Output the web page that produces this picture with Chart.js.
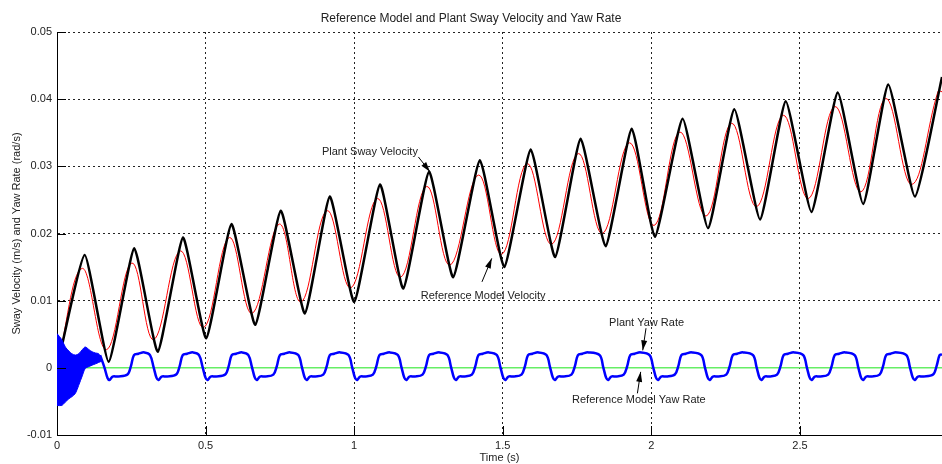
<!DOCTYPE html>
<html>
<head>
<meta charset="utf-8">
<title>Reference Model and Plant Sway Velocity and Yaw Rate</title>
<script src="https://cdn.jsdelivr.net/npm/chart.js@4.4.1/dist/chart.umd.min.js"></script>
<style>
  html, body { margin: 0; padding: 0; background: #fff; }
  canvas { display: block; }
</style>
</head>
<body>
<canvas id="swayChart" width="942" height="464"></canvas>
<script>
// Plant sway velocity (m/s): turning points of the black trace
const swayT = [0, 0.093, 0.174, 0.260, 0.339, 0.424, 0.502, 0.587, 0.667, 0.753, 0.834, 0.918,
  1.000, 1.087, 1.165, 1.252, 1.333, 1.423, 1.505, 1.594, 1.676, 1.762, 1.846, 1.934,
  2.012, 2.105, 2.191, 2.279, 2.366, 2.452, 2.539, 2.627, 2.713, 2.797, 2.887, 2.978];
const swayV = [0.0000, 0.0168, 0.0009, 0.0178, 0.0024, 0.0194, 0.0044, 0.0214, 0.0064, 0.0234, 0.0081, 0.0255,
  0.0098, 0.0273, 0.0118, 0.0292, 0.0135, 0.0309, 0.0150, 0.0325, 0.0165, 0.0341, 0.0181, 0.0356,
  0.0195, 0.0371, 0.0208, 0.0385, 0.0221, 0.0397, 0.0232, 0.0410, 0.0244, 0.0422, 0.0255, 0.0433];

// Reference model velocity (m/s): red trace
const refT = [0, 0.084, 0.166, 0.252, 0.325, 0.415, 0.493, 0.580, 0.656, 0.748, 0.821, 0.909,
  0.988, 1.078, 1.156, 1.244, 1.322, 1.418, 1.496, 1.582, 1.664, 1.754, 1.835, 1.926,
  2.009, 2.096, 2.184, 2.270, 2.354, 2.444, 2.528, 2.618, 2.705, 2.789, 2.876, 2.965, 2.978];
const refV = [0.0000, 0.0148, 0.0027, 0.0156, 0.0042, 0.0174, 0.0060, 0.0194, 0.0081, 0.0214, 0.0098, 0.0234,
  0.0119, 0.0252, 0.0135, 0.0270, 0.0153, 0.0287, 0.0169, 0.0304, 0.0184, 0.0319, 0.0200, 0.0335,
  0.0212, 0.0351, 0.0226, 0.0364, 0.0240, 0.0376, 0.0252, 0.0389, 0.0262, 0.0401, 0.0273, 0.0412, 0.0411];

// Plant yaw rate (rad/s) after the start-up transient: blue trace
const yawT = [0.145, 0.160,
  0.170, 0.177, 0.187, 0.205, 0.237, 0.249, 0.259, 0.274, 0.294, 0.313, 0.325,
  0.335, 0.342, 0.352, 0.370, 0.401, 0.413, 0.423, 0.438, 0.458, 0.478, 0.490,
  0.500, 0.507, 0.517, 0.535, 0.566, 0.578, 0.588, 0.603, 0.623, 0.644, 0.656,
  0.666, 0.673, 0.683, 0.701, 0.728, 0.740, 0.750, 0.765, 0.785, 0.812, 0.824,
  0.834, 0.841, 0.851, 0.869, 0.896, 0.908, 0.918, 0.933, 0.953, 0.981, 0.993,
  1.003, 1.010, 1.020, 1.038, 1.063, 1.075, 1.085, 1.100, 1.120, 1.147, 1.159,
  1.169, 1.176, 1.186, 1.204, 1.230, 1.242, 1.252, 1.267, 1.287, 1.314, 1.326,
  1.336, 1.343, 1.353, 1.371, 1.396, 1.408, 1.418, 1.433, 1.453, 1.480, 1.492,
  1.502, 1.509, 1.519, 1.537, 1.563, 1.575, 1.585, 1.600, 1.620, 1.647, 1.659,
  1.669, 1.676, 1.686, 1.704, 1.731, 1.743, 1.753, 1.768, 1.788, 1.826, 1.838,
  1.848, 1.855, 1.865, 1.883, 1.907, 1.919, 1.929, 1.944, 1.964, 1.994, 2.006,
  2.016, 2.023, 2.033, 2.051, 2.079, 2.091, 2.101, 2.116, 2.136, 2.168, 2.180,
  2.190, 2.197, 2.207, 2.225, 2.252, 2.264, 2.274, 2.289, 2.309, 2.342, 2.354,
  2.364, 2.371, 2.381, 2.399, 2.423, 2.435, 2.445, 2.460, 2.480, 2.511, 2.523,
  2.533, 2.540, 2.550, 2.568, 2.595, 2.607, 2.617, 2.632, 2.652, 2.684, 2.696,
  2.706, 2.713, 2.723, 2.741, 2.768, 2.780, 2.790, 2.805, 2.825, 2.858, 2.870,
  2.880, 2.887, 2.897, 2.915, 2.948, 2.960, 2.970, 2.978];
const yawR = [0.0019, 0.0000,
  -0.0015, -0.0018, -0.0013, -0.0013, -0.0010, 0.0003, 0.0019, 0.0021, 0.0023, 0.0019, 0.0001,
  -0.0015, -0.0018, -0.0013, -0.0013, -0.0010, 0.0003, 0.0019, 0.0021, 0.0023, 0.0019, 0.0001,
  -0.0015, -0.0018, -0.0013, -0.0013, -0.0010, 0.0003, 0.0019, 0.0021, 0.0023, 0.0019, 0.0001,
  -0.0015, -0.0018, -0.0013, -0.0013, -0.0010, 0.0003, 0.0019, 0.0021, 0.0023, 0.0019, 0.0001,
  -0.0015, -0.0018, -0.0013, -0.0013, -0.0010, 0.0003, 0.0019, 0.0021, 0.0023, 0.0019, 0.0001,
  -0.0015, -0.0018, -0.0013, -0.0013, -0.0010, 0.0003, 0.0019, 0.0021, 0.0023, 0.0019, 0.0001,
  -0.0015, -0.0018, -0.0013, -0.0013, -0.0010, 0.0003, 0.0019, 0.0021, 0.0023, 0.0019, 0.0001,
  -0.0015, -0.0018, -0.0013, -0.0013, -0.0010, 0.0003, 0.0019, 0.0021, 0.0023, 0.0019, 0.0001,
  -0.0015, -0.0018, -0.0013, -0.0013, -0.0010, 0.0003, 0.0019, 0.0021, 0.0023, 0.0019, 0.0001,
  -0.0015, -0.0018, -0.0013, -0.0013, -0.0010, 0.0003, 0.0019, 0.0021, 0.0023, 0.0019, 0.0001,
  -0.0015, -0.0018, -0.0013, -0.0013, -0.0010, 0.0003, 0.0019, 0.0021, 0.0023, 0.0019, 0.0001,
  -0.0015, -0.0018, -0.0013, -0.0013, -0.0010, 0.0003, 0.0019, 0.0021, 0.0023, 0.0019, 0.0001,
  -0.0015, -0.0018, -0.0013, -0.0013, -0.0010, 0.0003, 0.0019, 0.0021, 0.0023, 0.0019, 0.0001,
  -0.0015, -0.0018, -0.0013, -0.0013, -0.0010, 0.0003, 0.0019, 0.0021, 0.0023, 0.0019, 0.0001,
  -0.0015, -0.0018, -0.0013, -0.0013, -0.0010, 0.0003, 0.0019, 0.0021, 0.0023, 0.0019, 0.0001,
  -0.0015, -0.0018, -0.0013, -0.0013, -0.0010, 0.0003, 0.0019, 0.0021, 0.0023, 0.0019, 0.0001,
  -0.0015, -0.0018, -0.0013, -0.0013, -0.0010, 0.0003, 0.0019, 0.0020];

// Start-up chatter of the yaw rate: upper and lower envelope of the solid band
const burstT  = [0, 0.016, 0.028, 0.040, 0.050, 0.062, 0.073, 0.085, 0.095, 0.108, 0.118, 0.130, 0.140, 0.151];
const burstHi = [0.0051, 0.0042, 0.0031, 0.0025, 0.0021, 0.0019, 0.0021, 0.0027, 0.0031, 0.0027, 0.0024, 0.0022, 0.0021, 0.0012];
const burstLo = [-0.0056, -0.0056, -0.0051, -0.0046, -0.0043, -0.0038, -0.0026, -0.0012, -0.0001, 0.0002, 0.0004, 0.0006, 0.0008, 0.0010];

// Reference model yaw rate stays at zero
const refYawT = [0, 2.978];
const refYawR = [0, 0];

// Axis ticks
const xTicks = [0, 0.5, 1, 1.5, 2, 2.5];
const xTickLabels = ['0', '0.5', '1', '1.5', '2', '2.5'];
const yTicks = [-0.01, 0, 0.01, 0.02, 0.03, 0.04, 0.05];
const yTickLabels = ['-0.01', '0', '0.01', '0.02', '0.03', '0.04', '0.05'];

const FONT = "'Liberation Sans', Arial, sans-serif";
const INK = '#222';

function pts(xs, ys) {
    return xs.map((x, i) => ({ x: x, y: ys[i] }));
}

// text labels with arrows, in data coordinates
const notes = [
    { text: 'Plant Sway Velocity', at: [1.053, 0.0321], from: [1.216, 0.0314], to: [1.255, 0.0292] },
    { text: 'Reference Model Velocity', at: [1.434, 0.0107], from: [1.430, 0.0128], to: [1.463, 0.0163] },
    { text: 'Plant Yaw Rate', at: [1.984, 0.0067], from: [1.982, 0.0059], to: [1.971, 0.0026] },
    { text: 'Reference Model Yaw Rate', at: [1.958, -0.0048], from: [1.953, -0.0038], to: [1.964, -0.0006] }
];

const notesPlugin = {
    id: 'notes',
    afterDraw(chart) {
        const ctx = chart.ctx;
        const xs = chart.scales.x, ys = chart.scales.y;
        ctx.save();
        ctx.font = '11px ' + FONT;
        ctx.fillStyle = INK;
        ctx.strokeStyle = '#000';
        ctx.textAlign = 'center';
        ctx.textBaseline = 'middle';
        notes.forEach(n => {
            ctx.fillText(n.text, xs.getPixelForValue(n.at[0]), ys.getPixelForValue(n.at[1]));
            const x1 = xs.getPixelForValue(n.from[0]), y1 = ys.getPixelForValue(n.from[1]);
            const x2 = xs.getPixelForValue(n.to[0]), y2 = ys.getPixelForValue(n.to[1]);
            const a = Math.atan2(y2 - y1, x2 - x1);
            ctx.lineWidth = 1;
            ctx.beginPath();
            ctx.moveTo(x1, y1);
            ctx.lineTo(x2, y2);
            ctx.stroke();
            // filled head
            const len = 10, half = 3;
            ctx.fillStyle = '#000';
            ctx.beginPath();
            ctx.moveTo(x2, y2);
            ctx.lineTo(x2 - len * Math.cos(a) + half * Math.sin(a), y2 - len * Math.sin(a) - half * Math.cos(a));
            ctx.lineTo(x2 - len * Math.cos(a) - half * Math.sin(a), y2 - len * Math.sin(a) + half * Math.cos(a));
            ctx.closePath();
            ctx.fill();
            ctx.fillStyle = INK;
        });
        ctx.restore();
    }
};

// title, axis titles and inward tick marks
const framePlugin = {
    id: 'frame',
    afterDraw(chart) {
        const ctx = chart.ctx;
        const area = chart.chartArea;
        const xs = chart.scales.x, ys = chart.scales.y;
        ctx.save();
        ctx.strokeStyle = '#000';
        ctx.lineWidth = 1;
        ctx.beginPath();
        xTicks.forEach(v => {
            const px = Math.round(xs.getPixelForValue(v)) + 0.5;
            ctx.moveTo(px, area.bottom);
            ctx.lineTo(px, area.bottom - 9);
        });
        yTicks.forEach(v => {
            const py = Math.round(ys.getPixelForValue(v)) + 0.5;
            ctx.moveTo(area.left, py);
            ctx.lineTo(area.left + 9, py);
        });
        ctx.stroke();

        ctx.fillStyle = INK;
        ctx.textAlign = 'center';
        ctx.textBaseline = 'middle';
        ctx.font = '12px ' + FONT;
        ctx.fillText('Reference Model and Plant Sway Velocity and Yaw Rate', chart.width / 2, 19);
        ctx.font = '11px ' + FONT;
        ctx.fillText('Time (s)', (area.left + area.right) / 2, 458);
        ctx.translate(17, (area.top + area.bottom) / 2);
        ctx.rotate(-Math.PI / 2);
        ctx.fillText('Sway Velocity (m/s) and Yaw Rate (rad/s)', 0, 0);
        ctx.restore();
    }
};

new Chart(document.getElementById('swayChart'), {
    type: 'line',
    data: {
        datasets: [
            {
                label: 'Plant Yaw Rate',
                data: pts(yawT, yawR),
                borderColor: '#0000ff',
                borderWidth: 2.5,
                tension: 0.35,
                order: 0
            },
            {
                label: 'Yaw Transient Upper',
                data: pts(burstT, burstHi),
                borderColor: '#0000ff',
                borderWidth: 1,
                tension: 0.3,
                order: 0
            },
            {
                label: 'Yaw Transient Lower',
                data: pts(burstT, burstLo),
                borderColor: '#0000ff',
                backgroundColor: '#0000ff',
                borderWidth: 1,
                tension: 0.3,
                fill: '-1',
                order: 0
            },
            {
                label: 'Reference Model Yaw Rate',
                data: pts(refYawT, refYawR),
                borderColor: '#66ee66',
                borderWidth: 1.5,
                tension: 0,
                order: 1
            },
            {
                label: 'Plant Sway Velocity',
                data: pts(swayT, swayV),
                borderColor: '#000000',
                borderWidth: 2.5,
                tension: 0.15,
                order: 2
            },
            {
                label: 'Reference Model Velocity',
                data: pts(refT, refV),
                borderColor: '#ff0000',
                borderWidth: 1,
                tension: 0.4,
                order: 3
            }
        ]
    },
    options: {
        responsive: false,
        animation: false,
        devicePixelRatio: 1,
        layout: { padding: { top: 32, left: 0, right: 0, bottom: 0 } },
        elements: { point: { radius: 0 } },
        plugins: {
            legend: { display: false },
            title: { display: false },
            tooltip: { enabled: false }
        },
        scales: {
            x: {
                type: 'linear',
                min: 0,
                max: 2.978,
                afterBuildTicks: s => { s.ticks = xTicks.map(v => ({ value: v })); },
                afterFit: s => { s.height = 29; },
                ticks: {
                    callback: (v, i) => xTickLabels[i],
                    font: { family: FONT, size: 11 },
                    color: INK,
                    padding: 4,
                    maxRotation: 0
                },
                grid: { color: '#222', lineWidth: 1, drawTicks: false },
                border: { display: true, color: '#000', width: 1, dash: [2, 3] }
            },
            y: {
                type: 'linear',
                min: -0.01,
                max: 0.05,
                afterBuildTicks: s => { s.ticks = yTicks.map(v => ({ value: v })); },
                afterFit: s => { s.width = 57; },
                ticks: {
                    callback: (v, i) => yTickLabels[i],
                    font: { family: FONT, size: 11 },
                    color: INK,
                    padding: 5
                },
                grid: { color: '#222', lineWidth: 1, drawTicks: false },
                border: { display: true, color: '#000', width: 1, dash: [2, 3] }
            }
        }
    },
    plugins: [notesPlugin, framePlugin]
});
</script>
</body>
</html>
